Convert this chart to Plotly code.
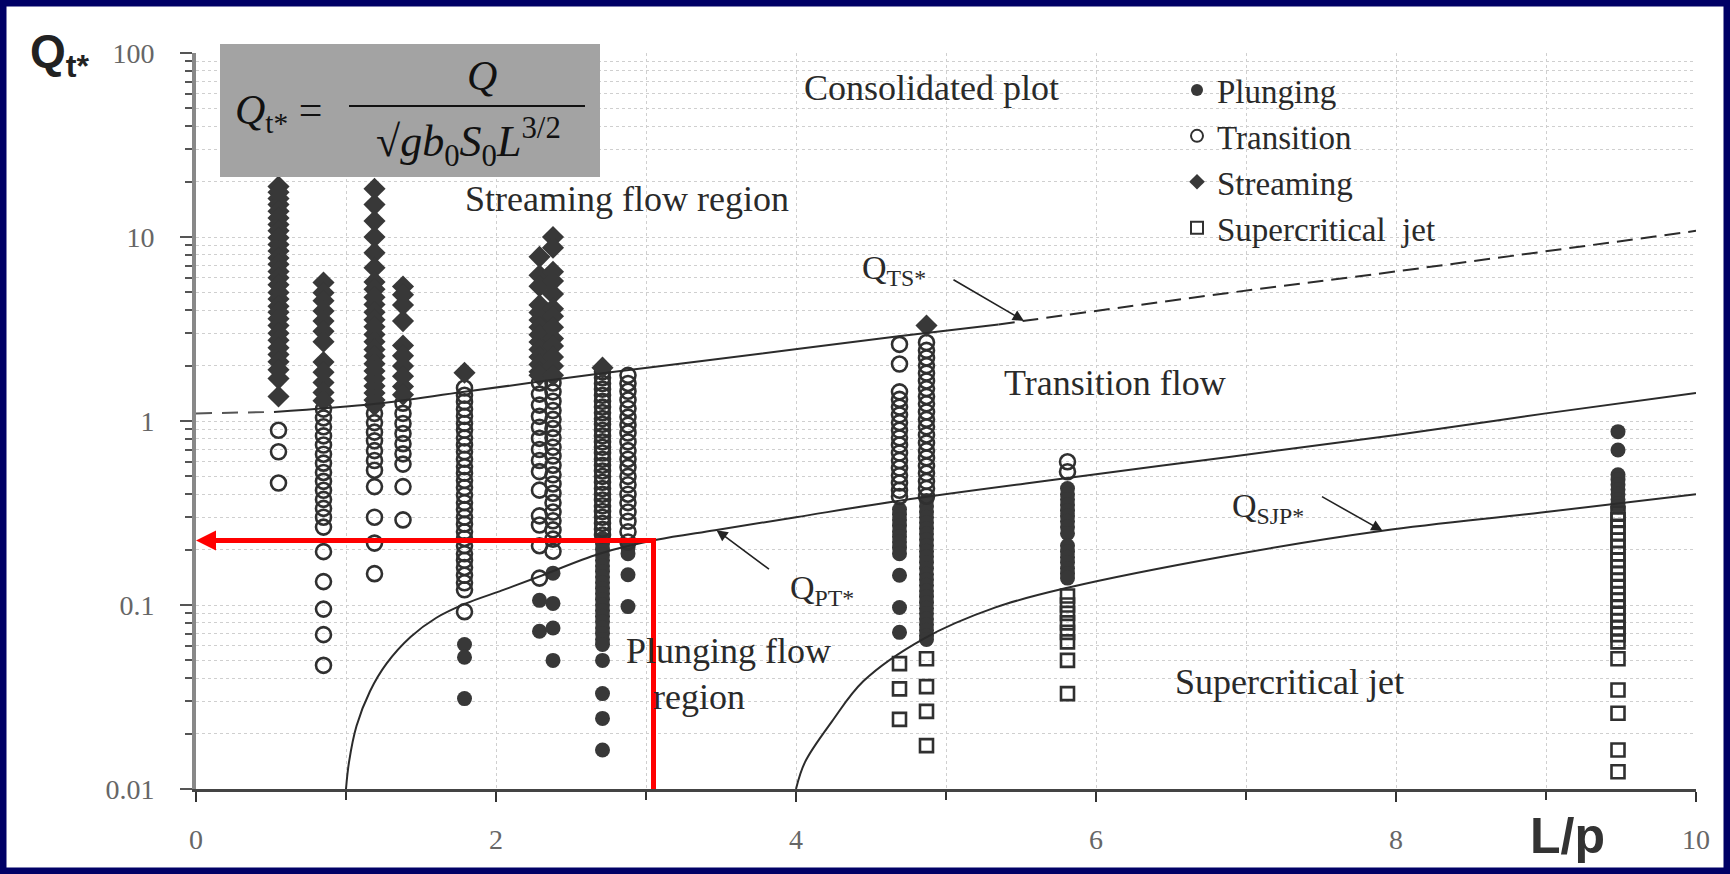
import math
import plotly.graph_objects as go

# ---------------- data ----------------
# Column positions (L/p)
C1, C2, C3, C4, C5, C6, C7 = 0.55, 0.85, 1.19, 1.38, 1.79, 2.29, 2.38
C8, C9, C10, C11, C12, C13 = 2.71, 2.88, 4.69, 4.87, 5.81, 9.48

plunging_q = {
    C5: [0.061, 0.052, 0.031],
    C6: [0.106, 0.072],
    C7: [0.149, 0.102, 0.075, 0.05],
    C8: [0.23, 0.215, 0.2, 0.187, 0.175, 0.163, 0.152, 0.142, 0.132, 0.123, 0.115,
         0.107, 0.1, 0.093, 0.087, 0.081, 0.075, 0.07, 0.065, 0.061, 0.05, 0.033,
         0.0242, 0.0163],
    C9: [0.205, 0.19, 0.146, 0.098],
    C10: [0.33, 0.31, 0.29, 0.27, 0.25, 0.235, 0.22, 0.205, 0.19, 0.145, 0.097, 0.071],
    C11: [0.37, 0.345, 0.32, 0.3, 0.28, 0.26, 0.243, 0.226, 0.21, 0.196, 0.183, 0.17,
          0.158, 0.147, 0.137, 0.128, 0.119, 0.111, 0.103, 0.096, 0.09, 0.084, 0.078,
          0.073, 0.068, 0.065],
    C12: [0.43, 0.4, 0.375, 0.35, 0.325, 0.305, 0.285, 0.265, 0.245, 0.21, 0.195,
          0.182, 0.17, 0.158, 0.148, 0.14],
    C13: [0.875, 0.695, 0.51, 0.48, 0.45, 0.425, 0.4, 0.375, 0.355, 0.342],
}

transition_q = {
    C1: [0.89, 0.68, 0.46],
    C2: [1.16, 1.04, 0.93, 0.83, 0.74, 0.66, 0.59, 0.525, 0.47, 0.42, 0.375, 0.335,
         0.30, 0.265, 0.195, 0.134, 0.095, 0.069, 0.047],
    C3: [1.1, 0.98, 0.87, 0.78, 0.69, 0.61, 0.54, 0.44, 0.30, 0.217, 0.148],
    C4: [1.25, 1.1, 0.97, 0.855, 0.753, 0.663, 0.583, 0.44, 0.29],
    C5: [1.51, 1.38, 1.27, 1.16, 1.06, 0.97, 0.89, 0.81, 0.74, 0.68, 0.62, 0.565,
         0.52, 0.475, 0.435, 0.395, 0.36, 0.33, 0.30, 0.275, 0.25, 0.23, 0.21, 0.19,
         0.175, 0.16, 0.145, 0.132, 0.121, 0.092],
    C6: [1.61, 1.40, 1.22, 1.06, 0.925, 0.805, 0.70, 0.61, 0.531, 0.421, 0.305,
         0.272, 0.21, 0.14],
    C7: [1.61, 1.44, 1.28, 1.14, 1.02, 0.91, 0.81, 0.72, 0.645, 0.575, 0.51, 0.455,
         0.405, 0.36, 0.32, 0.287, 0.256, 0.228, 0.196],
    C8: [1.85, 1.72, 1.6, 1.49, 1.38, 1.28, 1.19, 1.11, 1.03, 0.96, 0.89, 0.83, 0.77,
         0.72, 0.67, 0.62, 0.575, 0.535, 0.5, 0.465, 0.43, 0.4, 0.372, 0.346, 0.322,
         0.3, 0.278, 0.258, 0.24],
    C9: [1.77, 1.6, 1.45, 1.3, 1.17, 1.05, 0.95, 0.86, 0.77, 0.69, 0.62, 0.56, 0.5,
         0.45, 0.4, 0.36, 0.32, 0.285, 0.25, 0.22],
    C10: [2.61, 2.04, 1.44, 1.31, 1.19, 1.08, 0.98, 0.89, 0.81, 0.74, 0.67, 0.61,
          0.555, 0.505, 0.46, 0.42, 0.389],
    C11: [2.67, 2.42, 2.2, 2.0, 1.82, 1.65, 1.5, 1.36, 1.24, 1.12, 1.02, 0.93, 0.84,
          0.76, 0.69, 0.63, 0.57, 0.52, 0.47, 0.43, 0.39],
    C12: [0.60, 0.53],
}

streaming_q = {
    C1: [18.8, 17.5, 16.2, 15.0, 13.8, 12.7, 11.7, 10.8, 9.9, 9.1, 8.4, 7.7, 7.1, 6.5,
         6.0, 5.5, 5.0, 4.6, 4.2, 3.9, 3.6, 3.3, 3.0, 2.75, 2.5, 2.3, 2.1, 1.9, 1.7,
         1.36],
    C2: [5.66, 4.98, 4.50, 3.96, 3.49, 3.07, 2.70, 2.09, 1.84, 1.62, 1.43, 1.29],
    C3: [18.3, 15.0, 12.2, 10.0, 8.2, 6.8, 5.7, 5.2, 4.7, 4.3, 3.9, 3.55, 3.25, 2.95,
         2.7, 2.45, 2.25, 2.05, 1.87, 1.7, 1.55, 1.42, 1.3, 1.22],
    C4: [5.38, 4.85, 4.27, 3.49, 2.57, 2.26, 1.99, 1.75, 1.54, 1.39],
    C5: [1.83],
    C6: [7.8, 6.2, 5.4, 4.27, 3.89, 3.54, 3.23, 2.94, 2.69, 2.45, 2.23, 2.03, 1.85, 1.77],
    C7: [10.0, 8.75, 6.47, 5.77, 4.9, 4.07, 3.71, 3.23, 2.81, 2.56, 2.23, 1.99, 1.77],
    C8: [1.95],
    C11: [3.3],
}

jet_q = {
    C10: [0.048, 0.035, 0.0239],
    C11: [0.051, 0.036, 0.0264, 0.0172],
    C12: [0.112, 0.1, 0.09, 0.08, 0.071, 0.063, 0.050, 0.033],
    C13: [0.315, 0.29, 0.265, 0.245, 0.225, 0.207, 0.19, 0.175, 0.161, 0.148, 0.136,
          0.125, 0.115, 0.106, 0.097, 0.089, 0.082, 0.075, 0.069, 0.063, 0.051, 0.0345,
          0.0258, 0.0163, 0.0124],
}

# Boundary curves
qts_dash1_x = [0.0, 0.52]
qts_dash1_q = [1.10, 1.12]
qts_solid_x = [0.52, 1.2, 1.79, 2.71, 3.36, 4.67, 5.35]
qts_solid_q = [1.12, 1.24, 1.44, 1.82, 2.11, 2.88, 3.35]
qts_dash2_x = [5.35, 6.87, 8.0, 10.0]
qts_dash2_q = [3.35, 4.95, 6.5, 10.8]

qpt_x = [1.0, 1.02, 1.07, 1.16, 1.27, 1.43, 1.6, 1.8, 2.04, 2.28, 2.69, 3.07, 3.46,
         4.0, 4.7, 5.81, 6.9, 8.0, 9.0, 10.0]
qpt_q = [0.01, 0.014, 0.022, 0.034, 0.048, 0.067, 0.085, 0.102, 0.12, 0.142, 0.19,
         0.226, 0.255, 0.30, 0.37, 0.49, 0.64, 0.84, 1.1, 1.42]

qsjp_x = [4.0, 4.06, 4.24, 4.45, 4.85, 5.33, 5.81, 6.86, 7.91, 8.97, 10.0]
qsjp_q = [0.01, 0.014, 0.0233, 0.0386, 0.0655, 0.097, 0.124, 0.184, 0.253, 0.318, 0.40]

# Red marker lines
RED_X = 3.05
RED_Q = 0.224
RED_BOTTOM = 0.01

x_ticks = [0, 2, 4, 6, 8, 10]
y_ticks = [0.01, 0.1, 1, 10, 100]
y_ticktext = ["0.01", "0.1", "1", "10", "100"]

# ---------------- layout helpers ----------------
W, H = 1730, 874
ML, MR, MT, MB = 196, 34, 53, 85
PW, PH = W - ML - MR, H - MT - MB
SERIF = "Liberation Serif, Times New Roman, serif"
SANS = "Liberation Sans, Arial, sans-serif"
INK = "#2a2a2a"


def px(xp, yp):
    return (xp - ML) / PW, (H - MB - yp) / PH


def flatten(d):
    xs, ys = [], []
    for k, vals in d.items():
        xs += [k] * len(vals)
        ys += vals
    return xs, ys


fig = go.Figure()

series = [
    ("Plunging", plunging_q, dict(symbol="circle", size=15, color="#383838",
                                  line=dict(width=0))),
    ("Transition", transition_q, dict(symbol="circle-open", size=15, color="#303030",
                                      line=dict(width=2.6))),
    ("Streaming", streaming_q, dict(symbol="diamond", size=17, color="#383838",
                                    line=dict(width=0))),
    ("Supercritical  jet", jet_q, dict(symbol="square-open", size=13, color="#303030",
                                       line=dict(width=2.6))),
]
for name, d, mk in series:
    xs, ys = flatten(d)
    fig.add_trace(go.Scatter(x=xs, y=ys, mode="markers", name=name, marker=mk,
                             cliponaxis=False))

curve_line = dict(color="#2b2b2b", width=2)
fig.add_trace(go.Scatter(x=qts_dash1_x, y=qts_dash1_q, mode="lines", showlegend=False,
                         line=dict(color="#555", width=2, dash="16px,10px")))
fig.add_trace(go.Scatter(x=qts_solid_x, y=qts_solid_q, mode="lines", showlegend=False,
                         line=curve_line, line_shape="spline"))
fig.add_trace(go.Scatter(x=qts_dash2_x, y=qts_dash2_q, mode="lines", showlegend=False,
                         line=dict(color="#2b2b2b", width=2, dash="16px,8px"),
                         line_shape="spline"))
fig.add_trace(go.Scatter(x=qpt_x, y=qpt_q, mode="lines", showlegend=False,
                         line=curve_line, line_shape="spline"))
fig.add_trace(go.Scatter(x=qsjp_x, y=qsjp_q, mode="lines", showlegend=False,
                         line=curve_line, line_shape="spline"))

# red guide
fig.add_trace(go.Scatter(x=[RED_X, RED_X, 0.5], y=[RED_BOTTOM, RED_Q, RED_Q],
                         mode="lines", showlegend=False, cliponaxis=False,
                         line=dict(color="#ff0000", width=5)))

annotations = []
annotations.append(dict(x=0, y=math.log10(RED_Q), ax=RED_X, ay=math.log10(RED_Q),
                        xref="x", yref="y", axref="x", ayref="y", text="",
                        showarrow=True, arrowhead=2, arrowsize=0.8, arrowwidth=5,
                        arrowcolor="#ff0000", standoff=0))

# arrows to curves
for tx, tq, dx, dy in [(5.52, 3.5, -72, -42), (3.47, 0.255, 54, 40),
                       (7.91, 0.253, -62, -35)]:
    annotations.append(dict(x=tx, y=math.log10(tq), ax=dx, ay=dy, xref="x", yref="y",
                            text="", showarrow=True, arrowhead=2, arrowsize=1.4,
                            arrowwidth=1.6, arrowcolor="#222"))


def label(text, xp, yp, size=36, anchor="left", font=SERIF, color=INK):
    x, y = px(xp, yp)
    annotations.append(dict(x=x, y=y, xref="paper", yref="paper", text=text,
                            showarrow=False, xanchor=anchor, yanchor="middle",
                            font=dict(family=font, size=size, color=color)))


label("Consolidated plot", 802, 88)
label("Streaming flow region", 463, 199)
label("Transition flow", 1002, 383)
label("Plunging flow", 624, 651)
label("region", 651, 697)
label("Supercritical jet", 1173, 682)
label("Q<sub>TS*</sub>", 860, 270, size=34)
label("Q<sub>PT*</sub>", 788, 590, size=34)
label("Q<sub>SJP*</sub>", 1230, 508, size=34)

# formula box
label("<i>Q</i><sub>t*</sub> =", 233, 113, size=42, color="#111")
label("<i>Q</i>", 482, 76, size=42, anchor="center", color="#111")
label("√<i>g</i><i>b</i><sub>0</sub><i>S</i><sub>0</sub><i>L</i><sup>3/2</sup>",
      468, 142, size=44, anchor="center", color="#111")

# big axis labels
label("<b>Q<sub>t*</sub></b>", 28, 54, size=46, font=SANS, color="#222")
label("<b>L/p</b>", 1528, 836, size=50, font=SANS, color="#333")

shapes = []
bx0, by0 = px(220, 177)
bx1, by1 = px(600, 44)
shapes.append(dict(type="rect", xref="paper", yref="paper", x0=bx0, y0=by0, x1=bx1,
                   y1=by1, fillcolor="#a3a3a3", line=dict(width=0), layer="above"))
fx0, fy = px(349, 106)
fx1, _ = px(585, 106)
shapes.append(dict(type="line", xref="paper", yref="paper", x0=fx0, x1=fx1, y0=fy,
                   y1=fy, line=dict(color="#111", width=2)))
# navy frame
f0x, f0y = px(0, H)
f1x, f1y = px(W, 0)
shapes.append(dict(type="rect", xref="paper", yref="paper", x0=f0x, y0=f0y, x1=f1x,
                   y1=f1y, line=dict(color="#000066", width=13),
                   fillcolor="rgba(0,0,0,0)"))

minor_y = [m * 10 ** e for e in range(-2, 2) for m in range(2, 10)]
grid = dict(color="#cfcfcf", dash="dot")

lx, ly = px(1177, 62)
fig.update_layout(
    width=W, height=H,
    margin=dict(l=ML, r=MR, t=MT, b=MB, pad=0),
    paper_bgcolor="white", plot_bgcolor="white",
    showlegend=True,
    legend=dict(x=lx, y=ly, xanchor="left", yanchor="top", bgcolor="rgba(0,0,0,0)",
                font=dict(family=SERIF, size=33, color=INK), itemsizing="constant",
                tracegroupgap=0),
    annotations=annotations,
    shapes=shapes,
    xaxis=dict(range=[0, 10], tickvals=x_ticks, ticks="outside", ticklen=10,
               tickwidth=2, tickcolor="#333", showline=True, linecolor="#444",
               linewidth=3, zeroline=False, showgrid=True, gridcolor=grid["color"],
               griddash=grid["dash"], gridwidth=1, ticklabelstandoff=13,
               tickfont=dict(family=SERIF, size=28, color="#666"),
               minor=dict(dtick=1, ticks="outside", ticklen=8, tickwidth=2,
                          tickcolor="#333", showgrid=True, gridcolor=grid["color"],
                          griddash=grid["dash"])),
    yaxis=dict(type="log", range=[-2, 2], tickvals=y_ticks, ticktext=y_ticktext,
               ticks="outside", ticklen=12, tickwidth=2, tickcolor="#555",
               showline=True, linecolor="#888", linewidth=4, zeroline=False,
               showgrid=True, gridcolor=grid["color"], griddash=grid["dash"],
               ticklabelstandoff=20,
               tickfont=dict(family=SERIF, size=28, color="#666"),
               minor=dict(tickvals=minor_y, ticks="outside", ticklen=7, tickwidth=2,
                          tickcolor="#555", showgrid=True, gridcolor=grid["color"],
                          griddash=grid["dash"])),
)

fig.write_html("out.html", config={"displayModeBar": False},
               post_script="document.body.style.margin='0';document.body.style.overflow='hidden';")
